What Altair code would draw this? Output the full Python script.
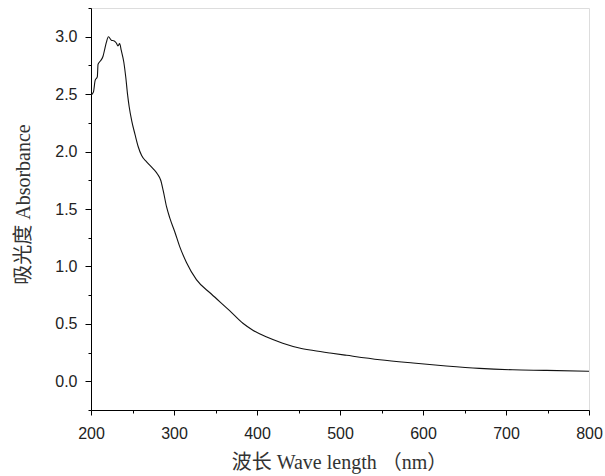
import altair as alt
import pandas as pd

wavelength = [200, 203, 205, 207.6, 208.5, 211.5, 214.5, 216.5, 218.5, 221, 224.5, 227.5,
              230.5, 232.5, 234.5, 236.5, 239.5, 242, 244, 246, 249, 253, 257, 261, 267,
              275, 280, 284, 287, 291, 295, 301, 307, 315, 327, 345, 367, 383, 395, 411,
              431, 451, 468, 488, 508, 548, 588, 628, 668, 708, 749, 800]
absorbance = [2.49, 2.52, 2.62, 2.65, 2.76, 2.79, 2.83, 2.89, 2.95, 3.0, 2.97, 2.965,
              2.945, 2.92, 2.94, 2.88, 2.78, 2.64, 2.50, 2.39, 2.27, 2.15, 2.04, 1.965, 1.91,
              1.85, 1.805, 1.75, 1.66, 1.52, 1.42, 1.30, 1.17, 1.035, 0.885, 0.76, 0.615, 0.505, 0.445, 0.387,
              0.332, 0.29, 0.268, 0.246, 0.226, 0.188, 0.159, 0.133, 0.112, 0.10, 0.095, 0.087]

x_ticks = [200 + 50 * i for i in range(13)]
y_ticks = [-0.25 + 0.25 * i for i in range(15)]

df = pd.DataFrame({"wl": wavelength, "abs": absorbance})

label_font = "Liberation Sans"
title_font = "Liberation Serif, 'Noto Sans CJK SC'"

chart = alt.Chart(df).mark_line(color="#111111", strokeWidth=1.1, interpolate="monotone").encode(
    x=alt.X("wl:Q", scale=alt.Scale(domain=[200, 800], nice=False, zero=False),
            axis=alt.Axis(values=x_ticks, grid=False,
                          labelExpr="datum.value % 100 === 0 ? format(datum.value, 'd') : ''",
                          tickSize={"condition": {"test": "datum.value % 100 === 0", "value": 5}, "value": 3},
                          title="波长 Wave length （nm）", titleFont=title_font, titleFontSize=20,
                          titleFontWeight="normal", titleColor="#333333",
                          titleX=248, titleY=52, titleBaseline="middle", titleAnchor="middle",
                          labelFont=label_font, labelFontSize=16, labelColor="#222222",
                          labelPadding=10, domainColor="black", tickColor="black",
                          labelOverlap=False, labelFlush=False)),
    y=alt.Y("abs:Q", scale=alt.Scale(domain=[-0.25, 3.25], nice=False, zero=False),
            axis=alt.Axis(values=y_ticks, grid=False,
                          labelExpr="datum.value % 0.5 === 0 ? format(datum.value, '.1f') : ''",
                          tickSize={"condition": {"test": "datum.value % 0.5 === 0", "value": 6}, "value": 3},
                          title="吸光度 Absorbance", titleFont=title_font, titleFontSize=20,
                          titleFontWeight="normal", titleColor="#333333",
                          titleX=-68, titleY=196, titleAngle=-90, titleBaseline="middle",
                          titleAnchor="middle",
                          labelFont=label_font, labelFontSize=16, labelColor="#222222",
                          labelPadding=8, domainColor="black", tickColor="black",
                          labelOverlap=False, labelFlush=False)),
).properties(
    width=498, height=402,
    autosize=alt.AutoSizeParams(type="none"),
    padding={"left": 91, "top": 8, "right": 16, "bottom": 66},
).configure_view(stroke=None).configure(background="white")

chart.save("out.html", embed_options={"renderer": "svg", "actions": False})
